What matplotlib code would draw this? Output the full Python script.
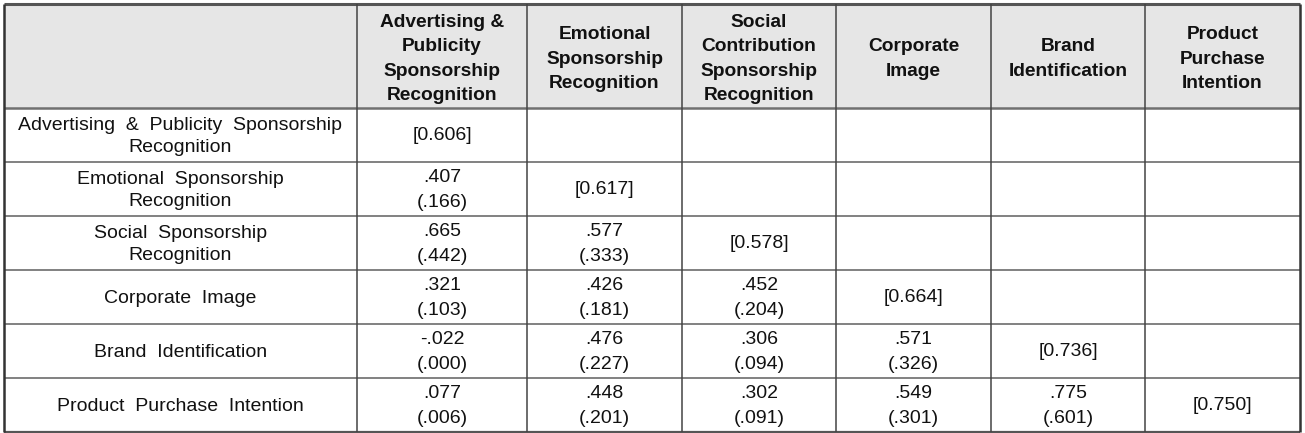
import matplotlib
matplotlib.use("Agg")
import matplotlib.pyplot as plt

col_labels = ["Advertising &\nPublicity\nSponsorship\nRecognition",
              "Emotional\nSponsorship\nRecognition",
              "Social\nContribution\nSponsorship\nRecognition",
              "Corporate\nImage",
              "Brand\nIdentification",
              "Product\nPurchase\nIntention"]
row_labels = ["Advertising  &  Publicity  Sponsorship\nRecognition",
              "Emotional  Sponsorship\nRecognition",
              "Social  Sponsorship\nRecognition",
              "Corporate  Image",
              "Brand  Identification",
              "Product  Purchase  Intention"]
diagonal = ["[0.606]", "[0.617]", "[0.578]", "[0.664]", "[0.736]", "[0.750]"]
correlations = [
    [],
    [".407"],
    [".665", ".577"],
    [".321", ".426", ".452"],
    ["-.022", ".476", ".306", ".571"],
    [".077", ".448", ".302", ".549", ".775"],
]
squared = [
    [],
    ["(.166)"],
    ["(.442)", "(.333)"],
    ["(.103)", "(.181)", "(.204)"],
    ["(.000)", "(.227)", "(.094)", "(.326)"],
    ["(.006)", "(.201)", "(.091)", "(.301)", "(.601)"],
]

W, H = 1305, 433
fig = plt.figure(figsize=(W / 100, H / 100), dpi=100)
ax = fig.add_axes([0, 0, 1, 1])
ax.set_xlim(0, W)
ax.set_ylim(H, 0)
ax.axis("off")

x_edges = [4, 357, 527, 682, 836, 991, 1145, 1300]
y_edges = [4, 108, 162, 216, 270, 324, 378, 432]

header_font = ["Liberation Sans Narrow", "Liberation Sans", "DejaVu Sans"]
body_font = ["Liberation Sans", "DejaVu Sans"]
txt = "#111111"

# header background
ax.fill_between([x_edges[0], x_edges[-1]], y_edges[0], y_edges[1], color="#e6e6e6", lw=0, zorder=0)

# grid lines
for i, y in enumerate(y_edges):
    if i == 0:
        ax.plot([x_edges[0], x_edges[-1]], [y, y], color="#555555", lw=2.2, zorder=2, solid_capstyle="butt")
    elif i == 1:
        ax.plot([x_edges[0], x_edges[-1]], [y, y], color="#707070", lw=1.8, zorder=2, solid_capstyle="butt")
    elif i == len(y_edges) - 1:
        ax.plot([x_edges[0], x_edges[-1]], [y, y], color="#555555", lw=1.6, zorder=2, solid_capstyle="butt")
    else:
        ax.plot([x_edges[0], x_edges[-1]], [y, y], color="#777777", lw=1.3, zorder=2, solid_capstyle="butt")
for j, x in enumerate(x_edges):
    lw = 1.8 if j in (0, len(x_edges) - 1) else 1.1
    c = "#333333" if j in (0, len(x_edges) - 1) else "#444444"
    ax.plot([x, x], [y_edges[0], y_edges[-1]], color=c, lw=lw, zorder=3, solid_capstyle="butt")

# header text
for j, lab in enumerate(col_labels):
    cx = (x_edges[j + 1] + x_edges[j + 2]) / 2
    cy = (y_edges[0] + y_edges[1]) / 2 + 3
    ax.text(cx, cy, lab, ha="center", va="center", fontsize=13.8, fontweight="bold",
            family=header_font, color=txt, linespacing=1.58)

# row labels and cells
for i, lab in enumerate(row_labels):
    cy = (y_edges[i + 1] + y_edges[i + 2]) / 2
    cx = (x_edges[0] + x_edges[1]) / 2
    ax.text(cx, cy + 1.5, lab, ha="center", va="center", fontsize=14, family=body_font,
            color=txt, linespacing=1.45)
    for j in range(i):
        ccx = (x_edges[j + 1] + x_edges[j + 2]) / 2
        ax.text(ccx, cy - 11.5, correlations[i][j], ha="center", va="center", fontsize=14,
                family=body_font, color=txt)
        ax.text(ccx, cy + 13.5, squared[i][j], ha="center", va="center", fontsize=14,
                family=body_font, color=txt)
    dcx = (x_edges[i + 1] + x_edges[i + 2]) / 2
    ax.text(dcx, cy + 1, diagonal[i], ha="center", va="center", fontsize=14, family=body_font, color=txt)

fig.savefig("out.png", dpi=100, facecolor="white")
